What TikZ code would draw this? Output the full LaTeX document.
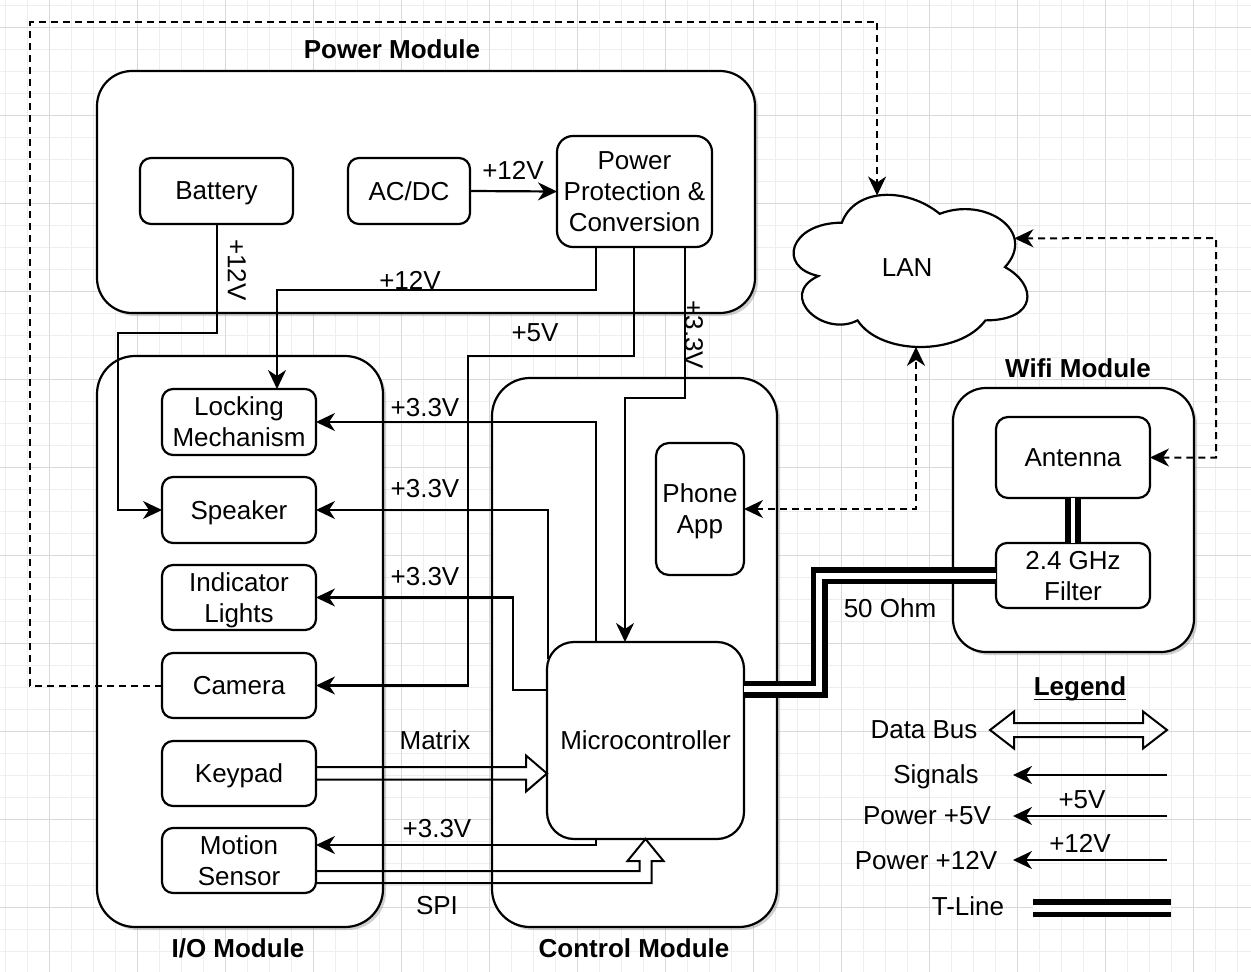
\documentclass[tikz,border=0pt]{standalone}
\usepackage{fontspec}
\setmainfont{Liberation Sans}
\usetikzlibrary{arrows.meta,calc,shadows}
\definecolor{gridminor}{HTML}{EEEEEE}
\definecolor{gridmajor}{HTML}{D9D9D9}
\tikzset{flow/.tip={Stealth[length=19pt,width=18pt,inset=6pt]}}
\begin{document}
\begin{tikzpicture}[x=1pt,y=-1pt,
  every node/.style={font=\fontsize{26}{31}\selectfont, align=center, inner sep=0pt, outer sep=0pt, text depth=0pt},
  sz/.style 2 args={minimum width=#1pt, minimum height=#2pt},
  module/.style={draw, line width=2.2pt, fill=white,
    drop shadow={shadow xshift=3pt, shadow yshift=-3pt, opacity=0.3, fill=black!60}},
  unit/.style={draw, line width=2.2pt, fill=white, rounded corners=11pt},
  title/.style={font=\fontsize{26}{31}\selectfont\bfseries},
  sig/.style={line width=2.2pt, -flow},
  dsh/.style={line width=2pt, dash pattern=on 7pt off 5pt},
  bus/.style={line width=2pt, line join=miter},
  tline/.style={line width=5.5pt, double=white, double distance=6pt, line join=miter},
]
\useasboundingbox (0,0) rectangle (1251,972);
\fill[white] (0,0) rectangle (1251,972);

% background grid
\foreach \g in {5,27,...,1251} \draw[gridminor, line width=0.8pt] (\g,0) -- (\g,972);
\foreach \g in {5,27,...,972} \draw[gridminor, line width=0.8pt] (0,\g) -- (1251,\g);
\foreach \g in {49,137,...,1251} \draw[gridmajor, line width=0.9pt] (\g,0) -- (\g,972);
\foreach \g in {27,115,...,972} \draw[gridmajor, line width=0.9pt] (0,\g) -- (1251,\g);

% modules
\node[module, rounded corners=35pt, sz={658}{242}] (pwr) at (426,192) {};
\node[module, rounded corners=38pt, sz={286}{571}] (io) at (240,641.5) {};
\node[module, rounded corners=38pt, sz={285}{549}] (ctl) at (634.5,652.5) {};
\node[module, rounded corners=33pt, sz={241}{264}] (wifi) at (1073.5,520) {};

\node[title] (tpwr) at (392,49) {Power Module};
\node[title] (tio) at (238,948) {I/O Module};
\node[title] (tctl) at (634,948) {Control Module};
\node[title] (twifi) at (1078,368) {Wifi Module};

% LAN cloud
\node[sz={261}{177.6}] (lan) at (907.1,267.1) {};
\begin{scope}[shift={(776.6pt,-178.3pt)}, x=261pt, y=-177.6pt]
  \draw[fill=white, line width=2.2pt]
    (0.25,0.25) .. controls (0.05,0.25) and (0,0.5) .. (0.16,0.55)
    .. controls (0,0.66) and (0.18,0.9) .. (0.31,0.8)
    .. controls (0.4,1) and (0.7,1) .. (0.8,0.8)
    .. controls (1,0.8) and (1,0.6) .. (0.875,0.5)
    .. controls (1,0.3) and (0.8,0.1) .. (0.625,0.2)
    .. controls (0.5,0.05) and (0.3,0.05) .. (0.25,0.25) -- cycle;
  \coordinate (lanT) at (0.385,0.097);
  \coordinate (lanR) at (0.911,0.338);
  \coordinate (lanB) at (0.534,0.949);
\end{scope}
\node (lantext) at (lan.center) {LAN};

% inner blocks
\node[unit, sz={153}{66}] (bat) at (216.5,191) {Battery};
\node[unit, sz={122}{66}] (acdc) at (409,191) {AC/DC};
\node[unit, rounded corners=16pt, sz={155}{111}] (ppc) at (634.5,191.5) {Power\\Protection \&\\Conversion};
\node[unit, sz={154}{66}] (lock) at (239,422) {Locking\\Mechanism};
\node[unit, sz={154}{66}] (spk) at (239,510) {Speaker};
\node[unit, sz={154}{65}] (ind) at (239,597.5) {Indicator\\Lights};
\node[unit, sz={154}{65}] (cam) at (239,685.5) {Camera};
\node[unit, sz={154}{65}] (key) at (239,773.5) {Keypad};
\node[unit, sz={154}{65}] (mot) at (239,860.5) {Motion\\Sensor};
\node[unit, rounded corners=13pt, sz={88}{132}] (app) at (700,509) {Phone\\App};
\node[unit, rounded corners=27pt, sz={197}{197}] (mcu) at (645.5,740.5) {Microcontroller};
\node[unit, rounded corners=12pt, sz={154}{81}] (ant) at (1073,457.5) {Antenna};
\node[unit, sz={154}{65}] (flt) at (1073,575.5) {2.4 GHz\\Filter};

% power distribution
\draw[sig] (acdc.east) -- (ppc.west);
\draw[sig] (217,0 |- bat.south) |- (118,333) |- (spk.west);
\draw[sig] (596,0 |- ppc.south) |- (277,290) -- (277,0 |- lock.north);
\draw[sig] (634,0 |- ppc.south) |- (468,356) |- (cam.east);
\draw[sig] (685,0 |- ppc.south) |- (625,398) -- (625,0 |- mcu.north);

% microcontroller supply outputs
\draw[sig] (596,0 |- mcu.north) |- (lock.east);
\draw[sig] (548,659) |- (spk.east);
\draw[sig] (mcu.west |- 0,690) -- (513,690) |- (ind.east);
\draw[sig] (596,0 |- mcu.south) |- (mot.east |- 0,845);

% data buses
\draw[bus] (key.east |- 0,767) -- (526,767) -- (526,755.5) -- (mcu.west |- key.east)
  -- (526,791.5) -- (526,779.5) -- (key.east |- 0,779.5);
\draw[bus] (mot.east |- 0,871) -- (639.5,871) -- (639.5,861) -- (627.5,861) -- (mcu.south)
  -- (663.5,861) -- (651.5,861) -- (651.5,883) -- (mot.east |- 0,883);

% transmission lines
\draw[tline] ($(mcu.east)+(0,-51.5)$) -- (819,689) |- (flt.west);
\draw[tline, double distance=4.5pt] (ant.south) -- (flt.north);

% network links
\draw[dsh, -flow] (cam.west) -| (30,22) -| (lanT);
\draw[dsh, flow-flow] (app.east) -| (lanB);
\draw[dsh, flow-flow] (ant.east) -| (1216,238) -- (lanR);

% connector labels
\node (l12a) at (513,170) {+12V};
\node[rotate=-90] (l12b) at (237,270) {+12V};
\node (l12c) at (410,280) {+12V};
\node (l5) at (535,333) {+5V};
\node[rotate=-90] (l33) at (694,335) {+3.3V};
\node (l33a) at (425,407) {+3.3V};
\node (l33b) at (425,488) {+3.3V};
\node (l33c) at (425,576) {+3.3V};
\node (lmat) at (435,740) {Matrix};
\node (l33d) at (437,828) {+3.3V};
\node (lspi) at (437,905) {SPI};
\node (l50) at (890,608) {50 Ohm};

% legend
\node[title] (leg) at (1080,686) {Legend};
\draw[line width=1.6pt] ([yshift=-4pt]leg.base west) -- ([yshift=-4pt]leg.base east);

\node (kbus) at (924,730) {Data Bus};
\node (ksig) at (936,774) {Signals};
\node (k5) at (927,816) {Power +5V};
\node (k12) at (926,860) {Power +12V};
\node (kt) at (968,906) {T-Line};

\coordinate (busL) at (990,730);
\coordinate (busR) at (1167,730);
\draw[bus] (busL) -- (1014,711.5) -- (1014,723) -- (1143,723) -- (1143,711.5) -- (busR)
  -- (1143,748.5) -- (1143,737) -- (1014,737) -- (1014,748.5) -- cycle;

\coordinate (sigR) at (1167,775);
\coordinate (sigL) at (1013,775);
\draw[sig] (sigR) -- (sigL);
\coordinate (p5R) at (1167,816);
\coordinate (p5L) at (1013,816);
\draw[sig] (p5R) -- (p5L);
\node (k5v) at (1082,800) {+5V};
\coordinate (p12R) at (1167,860);
\coordinate (p12L) at (1013,860);
\draw[sig] (p12R) -- (p12L);
\node (k12v) at (1080,843) {+12V};
\coordinate (tlL) at (1033,908);
\coordinate (tlR) at (1171,908);
\draw[tline, double distance=7pt] (tlL) -- (tlR);
\end{tikzpicture}
\end{document}
